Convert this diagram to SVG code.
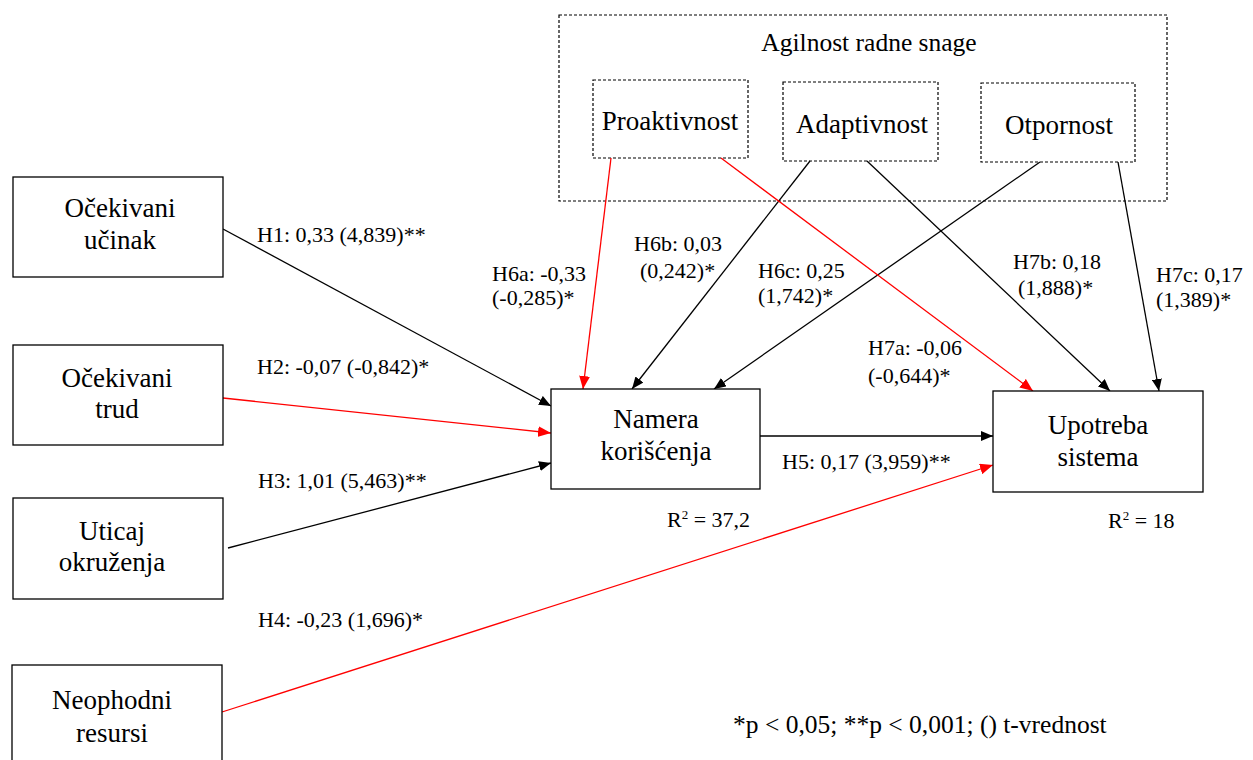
<svg xmlns="http://www.w3.org/2000/svg" width="1253" height="760" viewBox="0 0 1253 760" font-family="'Liberation Serif', 'DejaVu Serif', serif">
<defs>
<marker id="ab" viewBox="0 0 12 10" refX="12" refY="5" markerWidth="12" markerHeight="10" markerUnits="userSpaceOnUse" orient="auto"><path d="M0,0 L12,5 L0,10 z" fill="#000"/></marker>
<marker id="ar" viewBox="0 0 12 10" refX="12" refY="5" markerWidth="13" markerHeight="11" markerUnits="userSpaceOnUse" orient="auto"><path d="M0,0 L12,5 L0,10 z" fill="#f00"/></marker>
</defs>
<style>
text{font-family:'Liberation Serif','DejaVu Serif',serif;fill:#000}
.n{font-size:27px;text-anchor:middle}
.l{font-size:22px}
.box{fill:#fff;stroke:#000;stroke-width:1.3}
.dbox{fill:none;stroke:#000;stroke-width:1.2;stroke-dasharray:3,2}
.b{stroke:#000;stroke-width:1.3;fill:none;marker-end:url(#ab)}
.r{stroke:#f00;stroke-width:1.3;fill:none;marker-end:url(#ar)}
</style>
<rect width="1253" height="760" fill="#fff"/>
<g id="agilnost">
<rect class="dbox" x="559" y="15" width="608" height="186"/>
<text x="869" y="51" style="font-size:25.5px;text-anchor:middle">Agilnost radne snage</text>
</g>
<g id="proaktivnost">
<rect class="dbox" x="593" y="80" width="155" height="78"/>
<text class="n" x="670" y="130">Proaktivnost</text>
</g>
<g id="adaptivnost">
<rect class="dbox" x="783" y="82" width="155" height="79"/>
<text class="n" x="862" y="133">Adaptivnost</text>
</g>
<g id="otpornost">
<rect class="dbox" x="981" y="83" width="154" height="79"/>
<text class="n" x="1059" y="134">Otpornost</text>
</g>
<g id="connectors">
<line class="b" x1="223" y1="229" x2="551" y2="406"/>
<line class="r" x1="223" y1="398" x2="551" y2="433"/>
<line class="b" x1="228" y1="548" x2="551" y2="463"/>
<line class="r" x1="222" y1="712" x2="993" y2="465"/>
<line class="b" x1="760" y1="436" x2="993" y2="436"/>
<line class="r" x1="611" y1="158" x2="583" y2="389"/>
<line class="b" x1="810" y1="161" x2="632" y2="389"/>
<line class="b" x1="1040" y1="162" x2="714" y2="389"/>
<line class="r" x1="721" y1="158" x2="1033" y2="391"/>
<line class="b" x1="867" y1="161" x2="1110" y2="391"/>
<line class="b" x1="1118" y1="162" x2="1159" y2="391"/>
</g>
<g id="ocekivani-ucinak">
<rect class="box" x="13" y="177" width="210" height="100"/>
<text class="n" x="120" y="217">Očekivani</text>
<text class="n" x="120" y="249">učinak</text>
</g>
<g id="ocekivani-trud">
<rect class="box" x="13" y="345" width="210" height="100"/>
<text class="n" x="117" y="387">Očekivani</text>
<text class="n" x="117" y="418">trud</text>
</g>
<g id="uticaj-okruzenja">
<rect class="box" x="13" y="498" width="210" height="101"/>
<text class="n" x="112" y="540">Uticaj</text>
<text class="n" x="112" y="571">okruženja</text>
</g>
<g id="neophodni-resursi">
<rect class="box" x="12" y="665" width="210" height="110"/>
<text class="n" x="112" y="709">Neophodni</text>
<text class="n" x="112" y="742">resursi</text>
</g>
<g id="namera">
<rect class="box" x="551" y="389" width="209" height="100"/>
<text class="n" x="656" y="428">Namera</text>
<text class="n" x="656" y="460">korišćenja</text>
</g>
<g id="upotreba">
<rect class="box" x="993" y="391" width="210" height="101"/>
<text class="n" x="1098" y="434">Upotreba</text>
<text class="n" x="1098" y="466">sistema</text>
</g>
<g id="labels">
<text class="l" x="257" y="242">H1: 0,33 (4,839)**</text>
<text class="l" x="257" y="374">H2: -0,07 (-0,842)*</text>
<text class="l" x="258" y="488">H3: 1,01 (5,463)**</text>
<text class="l" x="258" y="627">H4: -0,23 (1,696)*</text>
<text class="l" x="782" y="469">H5: 0,17 (3,959)**</text>
<text class="l" x="492" y="281">H6a: -0,33</text>
<text class="l" x="492" y="305">(-0,285)*</text>
<text class="l" x="634" y="251">H6b: 0,03</text>
<text class="l" x="640" y="278">(0,242)*</text>
<text class="l" x="758" y="278">H6c: 0,25</text>
<text class="l" x="758" y="303">(1,742)*</text>
<text class="l" x="868" y="355">H7a: -0,06</text>
<text class="l" x="868" y="383">(-0,644)*</text>
<text class="l" x="1013" y="269">H7b: 0,18</text>
<text class="l" x="1018" y="295">(1,888)*</text>
<text class="l" x="1156" y="282">H7c: 0,17</text>
<text class="l" x="1156" y="307">(1,389)*</text>
<text class="l" x="667" y="527">R<tspan dy="-8" style="font-size:13px">2</tspan><tspan dy="8"> = 37,2</tspan></text>
<text class="l" x="1108" y="528">R<tspan dy="-8" style="font-size:13px">2</tspan><tspan dy="8"> = 18</tspan></text>
<text x="733" y="733" style="font-size:25.5px">*p &lt; 0,05; **p &lt; 0,001; () t-vrednost</text>
</g>
</svg>
